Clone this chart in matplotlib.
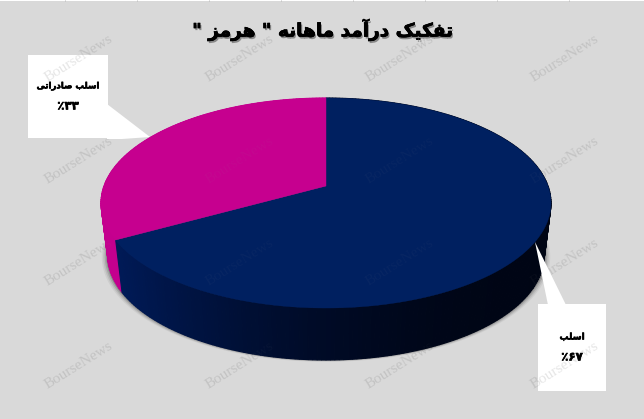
import matplotlib
matplotlib.use('Agg')
import matplotlib.pyplot as plt
import matplotlib.patheffects as pe
from matplotlib.patches import Polygon, Rectangle
import numpy as np

title = 'تفکیک درآمد ماهانه " هرمز "'
names = ['اسلب', 'اسلب صادراتی']
values = [67, 33]
value_labels = ['٪۶۷', '٪۳۳']
watermark = 'BourseNews'

# presentation forms: isolated, final, initial, medial
forms = {
    'ت': (0xFE95, 0xFE96, 0xFE97, 0xFE98),
    'ف': (0xFED1, 0xFED2, 0xFED3, 0xFED4),
    'ک': (0xFB8E, 0xFB8F, 0xFB90, 0xFB91),
    'ی': (0xFBFC, 0xFBFD, 0xFBFE, 0xFBFF),
    'م': (0xFEE1, 0xFEE2, 0xFEE3, 0xFEE4),
    'ه': (0xFEE9, 0xFEEA, 0xFEEB, 0xFEEC),
    'ن': (0xFEE5, 0xFEE6, 0xFEE7, 0xFEE8),
    'س': (0xFEB1, 0xFEB2, 0xFEB3, 0xFEB4),
    'ل': (0xFEDD, 0xFEDE, 0xFEDF, 0xFEE0),
    'ب': (0xFE8F, 0xFE90, 0xFE91, 0xFE92),
    'ص': (0xFEB9, 0xFEBA, 0xFEBB, 0xFEBC),
    'د': (0xFEA9, 0xFEAA),
    'ر': (0xFEAD, 0xFEAE),
    'ز': (0xFEAF, 0xFEB0),
    'ا': (0xFE8D, 0xFE8E),
    'آ': (0xFE81, 0xFE82),
}


def shape(text):
    # matplotlib has no arabic shaping, so pick the glyphs and reverse by hand
    out = []
    for i, c in enumerate(text):
        if c not in forms:
            out.append(c)
            continue
        before = i > 0 and text[i - 1] in forms and len(forms[text[i - 1]]) == 4
        after = i + 1 < len(text) and text[i + 1] in forms and len(forms[c]) == 4
        if before and after:
            g = forms[c][3]
        elif before:
            g = forms[c][1]
        elif after:
            g = forms[c][2]
        else:
            g = forms[c][0]
        out.append(chr(g))
    return ''.join(out)[::-1]


def rim(t, scale=1.0, drop=0.0):
    # t is clockwise from 12 o'clock, apex sits above the ellipse centre
    off = 17 / 105
    s = -off * np.cos(t) + np.sqrt((off * np.cos(t)) ** 2 + 1 - off ** 2)
    x = 326 + scale * 225 * s * np.sin(t)
    y = 186 - 105 * s * np.cos(t) + drop
    return x, y


fig = plt.figure(figsize=(6.44, 4.19), dpi=100, facecolor='#d9d9d9')
ax = fig.add_axes([0, 0, 1, 1])
ax.set_xlim(0, 644)
ax.set_ylim(419, 0)
ax.axis('off')

# strip left over at the top of the screenshot
ax.add_patch(Rectangle((0, 0), 644, 1.5, fc='white', ec='none'))
ax.vlines(np.arange(65, 600, 72), 0, 1.5, color='#b0b0b0', lw=0.6)

ends = np.cumsum(values) / np.sum(values) * 2 * np.pi
starts = np.r_[0, ends[:-1]]
top_colors = ['#002060', '#c6008f']
depth = 52

# soft shadow under the wall
tt = np.linspace(0, 2 * np.pi, 300)
sx, sy = rim(tt, 0.97, depth)
for grow, a in zip([6, 4.5, 3, 1.5], [0.05, 0.08, 0.12, 0.2]):
    ax.add_patch(Polygon(np.c_[326 + (sx - 326) * (218 + grow) / 218, sy + grow * 0.3],
                         fc='black', ec='none', alpha=a, zorder=1))

# side wall, back to front so the quads overlap correctly
segments = np.linspace(0, 2 * np.pi, 361)
order = np.argsort(np.cos(segments[:-1]))[::-1]
for i in order:
    t0, t1 = segments[i], segments[i + 1]
    x0, y0 = rim(t0)
    x1, y1 = rim(t1)
    x2, y2 = rim(t1, 0.97, depth)
    x3, y3 = rim(t0, 0.97, depth)
    if (t0 + t1) / 2 < ends[0]:
        f = np.clip((x0 - 110) / 440, 0, 1)
        col = np.array([0, 0.105, 0.35]) * (1 - f) ** 2 + np.array([0, 0.02, 0.08]) * (1 - (1 - f) ** 2)
    else:
        col = '#c4008e'
    ax.add_patch(Polygon([(x0, y0), (x1, y1), (x2, y2), (x3, y3)], fc=col, ec=col, lw=0.8, zorder=1))

# top surface
for s, e, c in zip(starts, ends, top_colors):
    t = np.linspace(s, e, 200)
    x, y = rim(t)
    ax.add_patch(Polygon(np.r_[[[326, 186]], np.c_[x, y]], fc=c, ec=c, lw=0.3, zorder=1))

# callouts
ax.add_patch(Polygon([(548, 305), (535, 242), (566, 305)], fc='white', ec='none', zorder=3))
box_a = Rectangle((538, 304), 68, 87, fc='white', ec='none', zorder=3)
ax.add_patch(box_a)
ax.add_patch(Polygon([(107, 104), (150, 137), (122, 139), (107, 139)], fc='white', ec='none', zorder=3))
box_b = Rectangle((28, 55), 80, 83, fc='white', ec='none', zorder=3)
ax.add_patch(box_b)

heavy = [pe.withStroke(linewidth=0.4, foreground='black')]
ax.text(572, 337, shape(names[0]), fontsize=6.5, fontweight='bold', ha='center', va='center',
        path_effects=heavy, zorder=5)
ax.text(572, 357, value_labels[0], fontsize=8.5, fontweight='bold', ha='center', va='center',
        path_effects=heavy, zorder=5)
ax.text(68, 86, shape(names[1]), fontsize=6.2, fontweight='bold', ha='center', va='center',
        path_effects=heavy, zorder=5)
ax.text(68, 106, value_labels[1], fontsize=8.5, fontweight='bold', ha='center', va='center',
        path_effects=heavy, zorder=5)

ax.text(323, 30, shape(title), fontsize=13.3, fontweight='bold', ha='center', va='center',
        path_effects=[pe.withSimplePatchShadow(offset=(1, -1.5), shadow_rgbFace='#555555', alpha=0.6),
                      pe.withStroke(linewidth=0.5, foreground='black')], zorder=5)

# watermark shows on the grey and the white boxes, hardly at all on the pie
wm_style = dict(family='Liberation Serif', fontsize=11, color='#9a9a9a', rotation=32,
                ha='center', va='center')
for wx in [79, 240, 400, 565]:
    for wy in [58, 160, 262, 365]:
        ax.text(wx, wy, watermark, alpha=0.3, zorder=0.5, **wm_style)
        ax.text(wx, wy, watermark, alpha=0.05, zorder=2, **wm_style)
        for box in [box_a, box_b]:
            wm = ax.text(wx, wy, watermark, alpha=0.25, zorder=4, **wm_style)
            wm.set_clip_on(True)
            wm.set_clip_box(box.get_window_extent())

fig.savefig('out.png', dpi=100, facecolor=fig.get_facecolor())
